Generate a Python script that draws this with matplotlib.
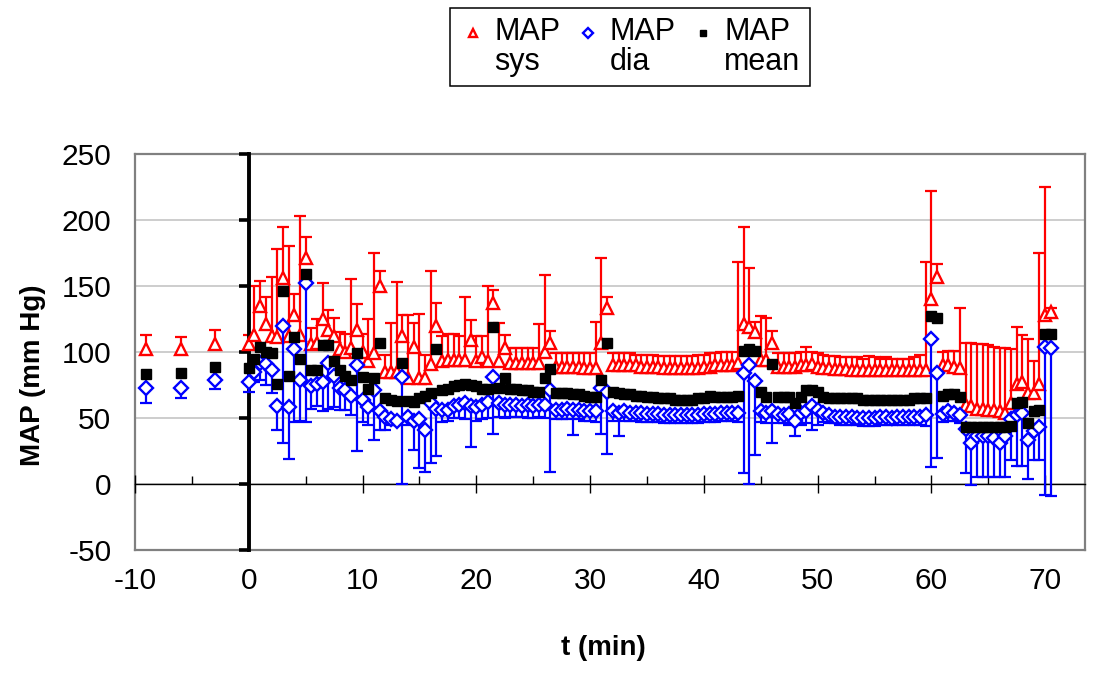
import matplotlib
matplotlib.use("Agg")
import numpy as np
import matplotlib.pyplot as plt
from matplotlib.lines import Line2D
from matplotlib.legend_handler import HandlerLine2D
from matplotlib.ticker import MultipleLocator

plt.rcParams['font.family'] = ['Liberation Sans', 'DejaVu Sans']
plt.rcParams['axes.unicode_minus'] = False

# ---- data (t in min, pressures in mm Hg) ----
t = [-9, -6, -3, 0, 0.5, 1, 1.5, 2, 2.5, 3, 3.5, 4, 4.5, 5, 5.5, 6, 6.5, 7, 7.5, 8,
     8.5, 9, 9.5, 10, 10.5, 11, 11.5, 12, 12.5, 13, 13.5, 14, 14.5, 15, 15.5, 16,
     16.5, 17, 17.5, 18, 18.5, 19, 19.5, 20, 20.5, 21, 21.5, 22, 22.5, 23, 23.5,
     24, 24.5, 25, 25.5, 26, 26.5, 27, 27.5, 28, 28.5, 29, 29.5, 30, 30.5, 31,
     31.5, 32, 32.5, 33, 33.5, 34, 34.5, 35, 35.5, 36, 36.5, 37, 37.5, 38, 38.5,
     39, 39.5, 40, 40.5, 41, 41.5, 42, 42.5, 43, 43.5, 44, 44.5, 45, 45.5, 46,
     46.5, 47, 47.5, 48, 48.5, 49, 49.5, 50, 50.5, 51, 51.5, 52, 52.5, 53, 53.5,
     54, 54.5, 55, 55.5, 56, 56.5, 57, 57.5, 58, 58.5, 59, 59.5, 60, 60.5, 61,
     61.5, 62, 62.5, 63, 63.5, 64, 64.5, 65, 65.5, 66, 66.5, 67, 67.5, 68, 68.5,
     69, 69.5, 70, 70.5]

map_sys = [102, 102, 106, 106, 113, 135, 121, 112, 111, 156,
           112, 128, 113, 171, 106, 107, 125, 117, 112, 102,
           100, 103, 117, 100, 93, 99, 150, 85, 85, 85,
           112, 80, 104, 80, 80, 91, 120, 93, 94, 94,
           94, 94, 109, 93, 96, 93, 137, 93, 103, 92,
           92, 92, 92, 92, 92, 100, 107, 89, 89, 89,
           89, 89, 88, 88, 88, 107, 133, 90, 90, 90,
           90, 90, 89, 89, 89, 89, 88, 88, 88, 88,
           88, 88, 88, 89, 89, 90, 90, 90, 90, 92,
           121, 119, 115, 94, 94, 107, 89, 89, 89, 89,
           90, 90, 91, 89, 88, 88, 87, 87, 87, 86,
           86, 86, 86, 86, 86, 86, 86, 86, 86, 86,
           86, 86, 86, 140, 157, 90, 90, 89, 88, 60,
           59, 57, 57, 56, 56, 55, 54, 61, 76, 77,
           69, 69, 76, 128, 130]

# top of the upper (+SD) error bar of MAP sys
sys_top = [113, 111, 117, 113, 150, 154, 142, 157, 178, 195,
           180, 144, 203, 187, 118, 125, 152, 132, 126, 115,
           114, 155, 136, 114, 125, 175, 161, 98, 122, 153,
           128, 128, 122, 129, 98, 161, 137, 112, 114, 114,
           112, 142, 124, 112, 112, 150, 147, 122, 113, 103,
           103, 103, 103, 103, 121, 158, 116, 99, 99, 99,
           99, 99, 99, 99, 123, 171, 142, 99, 99, 99,
           99, 98, 98, 98, 98, 97, 97, 97, 97, 97,
           97, 97, 98, 98, 99, 99, 100, 100, 100, 168,
           195, 164, 123, 127, 126, 116, 99, 99, 99, 99,
           100, 104, 100, 99, 98, 97, 97, 96, 96, 96,
           96, 95, 97, 96, 95, 96, 95, 95, 95, 95,
           96, 98, 168, 222, 167, 100, 101, 101, 133, 107,
           107, 106, 106, 105, 104, 103, 103, 102, 119, 113,
           110, 93, 175, 225, 133]

map_mean = [83, 84, 89, 88, 95, 104, 100, 99, 76, 146,
            82, 111, 95, 159, 86, 86, 105, 105, 93, 86,
            82, 79, 99, 81, 72, 80, 107, 65, 64, 63,
            92, 63, 62, 65, 67, 69, 102, 71, 72, 74,
            75, 76, 75, 74, 72, 72, 119, 73, 80, 72,
            72, 71, 71, 70, 70, 80, 87, 69, 69, 69,
            68, 68, 67, 66, 66, 79, 107, 70, 69, 68,
            68, 67, 67, 66, 66, 65, 65, 65, 64, 64,
            64, 64, 65, 65, 67, 66, 66, 66, 66, 67,
            101, 102, 101, 70, 66, 91, 66, 66, 66, 61,
            66, 71, 71, 70, 66, 65, 65, 65, 65, 65,
            65, 64, 64, 64, 64, 64, 64, 64, 64, 64,
            65, 65, 65, 127, 126, 67, 68, 68, 66, 43,
            43, 43, 43, 43, 43, 43, 43, 44, 61, 62,
            46, 55, 56, 114, 114]

map_dia = [73, 73, 79, 77, 85, 92, 91, 86, 59, 120,
           58, 102, 79, 152, 74, 76, 77, 92, 82, 73,
           71, 67, 90, 64, 58, 71, 55, 51, 49, 48,
           81, 51, 48, 49, 41, 61, 57, 56, 56, 59,
           60, 61, 59, 58, 60, 62, 81, 61, 60, 60,
           60, 59, 60, 59, 60, 60, 71, 56, 56, 57,
           56, 56, 55, 55, 55, 73, 70, 55, 54, 55,
           54, 54, 54, 53, 53, 53, 52, 52, 52, 52,
           52, 52, 52, 53, 53, 53, 54, 54, 54, 54,
           84, 90, 78, 55, 54, 55, 53, 52, 53, 48,
           54, 55, 59, 56, 54, 52, 51, 51, 51, 51,
           50, 50, 50, 50, 51, 51, 50, 51, 51, 51,
           51, 51, 52, 110, 84, 53, 55, 54, 52, 42,
           31, 36, 36, 36, 35, 31, 36, 49, 52, 54,
           33, 40, 43, 104, 103]

# bottom of the lower (-SD) error bar of MAP dia
dia_bot = [61, 65, 72, 70, 77, 79, 75, 69, 41, 31,
           19, 47, 48, 47, 57, 59, 55, 57, 58, 56,
           56, 52, 25, 47, 45, 33, 41, 41, 45, 45,
           0, 45, 26, 12, 9, 16, 21, 47, 48, 50,
           50, 49, 28, 48, 49, 50, 38, 51, 50, 51,
           51, 51, 50, 50, 51, 50, 9, 49, 49, 49,
           37, 49, 48, 48, 47, 38, 23, 48, 36, 48,
           48, 48, 47, 47, 47, 47, 46, 46, 46, 46,
           46, 46, 46, 47, 47, 47, 48, 48, 48, 47,
           8, 0, 22, 47, 46, 31, 46, 46, 45, 36,
           45, 46, 41, 45, 47, 46, 46, 45, 45, 45,
           45, 44, 44, 44, 45, 45, 45, 45, 45, 45,
           45, 45, 44, 13, 20, 47, 48, 48, 46, 8,
           -1, 5, 5, 5, 5, 5, 5, 18, 14, 14,
           4, 18, 18, -8, -9]

y_ticks = [-50, 0, 50, 100, 150, 200, 250]
x_ticks = [-10, 0, 10, 20, 30, 40, 50, 60, 70]

RED = '#ff0000'
BLUE = '#0000ff'


class HandlerFirstLine(HandlerLine2D):
    """legend marker lifted up to the first text line"""
    def __init__(self, dy, **kw):
        super().__init__(**kw)
        self.dy = dy

    def create_artists(self, legend, orig_handle, xdescent, ydescent, width,
                       height, fontsize, trans):
        arts = super().create_artists(legend, orig_handle, xdescent, ydescent,
                                      width, height, fontsize, trans)
        for a in arts:
            a.set_ydata(np.asarray(a.get_ydata(), dtype=float) + self.dy)
        return arts


fig = plt.figure(figsize=(10.99, 6.73), dpi=100)
rect = [135 / 1099, 1 - 550 / 673, 950 / 1099, 396 / 673]

# background axes: gray frame, grid and tick labels
bg = fig.add_axes(rect)
bg.set_xlim(-10, 73.5)
bg.set_ylim(-50, 250)
bg.set_yticks(y_ticks)
bg.set_xticks(x_ticks)
bg.tick_params(length=0, labelsize=21.5)
bg.tick_params(axis='y', pad=17)
bg.tick_params(axis='x', pad=12)
bg.yaxis.grid(True, color='#c0c0c0', linewidth=1.1)
for s in bg.spines.values():
    s.set_color('#808080')
    s.set_linewidth(1.6)

# foreground axes: axis lines crossing at (0, 0) and the data
ax = fig.add_axes(rect)
ax.set_xlim(-10, 73.5)
ax.set_ylim(-50, 250)
ax.patch.set_alpha(0)
ax.spines['top'].set_visible(False)
ax.spines['right'].set_visible(False)
ax.spines['left'].set_position(('data', 0))
ax.spines['left'].set_linewidth(2.8)
ax.spines['bottom'].set_position(('data', 0))
ax.spines['bottom'].set_linewidth(1.0)
ax.set_yticks(y_ticks)
ax.set_xticks(x_ticks)
ax.xaxis.set_minor_locator(MultipleLocator(5))
ax.tick_params(axis='y', direction='out', length=7, width=2.6, labelleft=False)
ax.tick_params(axis='x', which='major', direction='inout', length=13, width=1.0,
               labelbottom=False)
ax.tick_params(axis='x', which='minor', direction='in', length=6, width=1.0)

t_arr = np.array(t)
sys_arr = np.array(map_sys)
dia_arr = np.array(map_dia)
zeros = np.zeros(len(t))

# MAP sys with +SD bars
ax.errorbar(t_arr, sys_arr, yerr=[zeros, np.array(sys_top) - sys_arr], fmt='none',
            ecolor=RED, elinewidth=1.6, capsize=0, zorder=2)
ax.plot(t_arr, sys_top, linestyle='none', marker='_', ms=8.5, mew=1.6, color=RED, zorder=2)
ax.plot(t_arr, sys_arr, linestyle='none', marker='^', ms=8, mfc='white', mec=RED,
        mew=1.7, zorder=3)

# MAP dia with -SD bars
ax.errorbar(t_arr, dia_arr, yerr=[dia_arr - np.array(dia_bot), zeros], fmt='none',
            ecolor=BLUE, elinewidth=1.6, capsize=0, zorder=4)
ax.plot(t_arr, dia_bot, linestyle='none', marker='_', ms=8.5, mew=1.6, color=BLUE, zorder=4)
ax.plot(t_arr, dia_arr, linestyle='none', marker='D', ms=7, mfc='white', mec=BLUE,
        mew=1.7, zorder=5)

# MAP mean
ax.plot(t_arr, map_mean, linestyle='none', marker='s', ms=7, color='black',
        mec='black', zorder=6)

fig.text(33 / 1099, 1 - 375 / 673, 'MAP (mm Hg)', rotation=90, ha='center',
         va='center', fontsize=20, fontweight='bold')
fig.text(603 / 1099, 1 - 648 / 673, 't (min)', ha='center', va='center',
         fontsize=20, fontweight='bold')

handles = [
    Line2D([], [], linestyle='none', marker='^', ms=8, mfc='white', mec=RED, mew=1.7),
    Line2D([], [], linestyle='none', marker='D', ms=7, mfc='white', mec=BLUE, mew=1.7),
    Line2D([], [], linestyle='none', marker='s', ms=7, color='black'),
]
labels = ['MAP\nsys', 'MAP\ndia', 'MAP\nmean']
hmap = {h: HandlerFirstLine(11) for h in handles}
leg = fig.legend(handles, labels, ncol=3, loc='upper center',
                 bbox_to_anchor=(630 / 1099, 1 - 8 / 673), borderaxespad=0,
                 fontsize=22, frameon=True, fancybox=False, edgecolor='black',
                 framealpha=1, handlelength=0.9, handletextpad=0.25,
                 columnspacing=0.45, borderpad=0.3, markerscale=0.7,
                 handler_map=hmap)
leg.get_frame().set_linewidth(1.1)
for txt in leg.get_texts():
    txt.set_linespacing(1.0)

fig.savefig('out.png', dpi=100)
